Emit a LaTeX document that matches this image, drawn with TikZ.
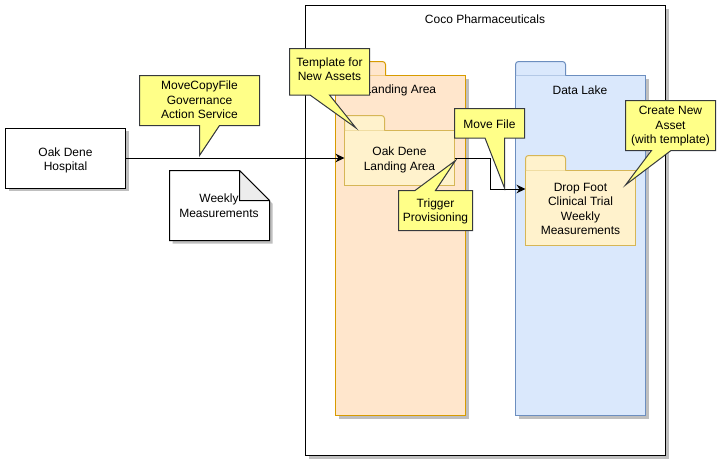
\documentclass[tikz,border=0pt]{standalone}
\usepackage{fontspec}
\setmainfont{Liberation Sans}
\usetikzlibrary{arrows.meta,shadows}

\definecolor{landingfill}{HTML}{FFE6CC}
\definecolor{landingline}{HTML}{D79B00}
\definecolor{lakefill}{HTML}{DAE8FC}
\definecolor{lakeline}{HTML}{6C8EBF}
\definecolor{innerfill}{HTML}{FFF2CC}
\definecolor{innerline}{HTML}{D6B656}
\definecolor{notefill}{HTML}{FFFF88}
\definecolor{noteline}{HTML}{36393D}

\tikzset{
    softshadow/.style={drop shadow={shadow xshift=3pt,shadow yshift=-3pt,opacity=.25,fill=black}},
    txt/.style={align=center,inner sep=0pt,font=\fontsize{12}{14.5}\selectfont},
    box/.style={draw=black,fill=white,line width=1pt,inner sep=0pt,outer sep=0pt},
    folder/.style={line width=1pt,inner sep=0pt,outer sep=0pt},
    landingfolder/.style={folder,draw=landingline,fill=landingfill},
    lakefolder/.style={folder,draw=lakeline,fill=lakefill},
    innerfolder/.style={folder,draw=innerline,fill=innerfill},
    calloutshape/.style={draw=noteline,fill=notefill,line width=1pt,line join=miter},
    link/.style={draw=black,line width=1pt,-{Stealth[length=9pt,width=8.5pt]}},
}

% tab on top of a folder body
\newcommand{\foldertab}[4]{
    \draw[#2,rounded corners=3pt] (#1.north west) -- ++(0,-#4) -- ++(#3,0) -- ++(0,#4);
}

\begin{document}
\begin{tikzpicture}[x=1pt,y=-1pt]
    \useasboundingbox (0,0) rectangle (721,464);

    % company
    \node[box,softshadow,minimum width=360pt,minimum height=450pt] (coco) at (485.5,230.5) {};
    \node[txt] (cocolabel) at (485,19) {Coco Pharmaceuticals};

    % the two big folders
    \node[landingfolder,softshadow,minimum width=130pt,minimum height=340pt] (landing) at (400.5,245.5) {};
    \foldertab{landing}{landingfolder}{50}{14}
    \node[txt] (landinglabel) at (400.5,90) {Landing Area};
    \node[lakefolder,softshadow,minimum width=130pt,minimum height=340pt] (lake) at (580.5,245.5) {};
    \foldertab{lake}{lakefolder}{50}{14}
    \node[txt] (lakelabel) at (580,90) {Data Lake};

    % folders inside
    \node[innerfolder,minimum width=110pt,minimum height=55pt] (oakarea) at (399.5,158) {};
    \foldertab{oakarea}{innerfolder}{40}{15}
    \node[txt] (oaklabel) at (399.5,160) {Oak Dene\\Landing Area};
    \node[innerfolder,minimum width=110pt,minimum height=75pt] (dropfoot) at (580.5,208) {};
    \foldertab{dropfoot}{innerfolder}{40}{15}
    \node[txt] (droplabel) at (580.5,209) {Drop Foot\\Clinical Trial\\Weekly\\Measurements};

    % hospital and file
    \node[box,softshadow,minimum width=120pt,minimum height=60pt] (hospital) at (65.5,158) {};
    \node[txt] (hospitallabel) at (65.5,160.5) {Oak Dene\\Hospital};
    \draw[draw=black,fill=white,line width=1pt,softshadow] (169.5,170.5) -- (239.5,170.5) -- (269.5,200.5) -- (269.5,240.5) -- (169.5,240.5) -- cycle;
    \draw[draw=black,fill=black!7,line width=1pt,line join=round] (239.5,170.5) -- (239.5,200.5) -- (269.5,200.5) -- cycle;
    \node[txt] (weekly) at (219,205.5) {Weekly\\Measurements};

    % connectors
    \coordinate (bendtop) at (490,158);
    \coordinate (bendlow) at (490,189);
    \draw[link] (hospital.east) -- (oakarea.west);
    \draw[link] (oakarea.east) -- (bendtop) -- (bendlow) -- (bendlow -| dropfoot.west);

    % notes
    \draw[calloutshape] (139.5,75.5) -- (259.5,75.5) -- (259.5,125.5) -- (219.5,125.5) -- (199.5,155.5) -- (199.5,125.5) -- (139.5,125.5) -- cycle;
    \node[txt] (movecopy) at (199.5,100) {MoveCopyFile\\Governance\\Action Service};

    \draw[calloutshape] (289.5,48.5) -- (369.5,48.5) -- (369.5,95) -- (329.5,95) -- (356,128) -- (310,95) -- (289.5,95) -- cycle;
    \node[txt] (template) at (329.5,69) {Template for\\New Assets};

    \draw[calloutshape] (398.5,190.5) -- (415,190.5) -- (455.5,160.5) -- (435.5,190.5) -- (472.5,190.5) -- (472.5,230.5) -- (398.5,230.5) -- cycle;
    \node[txt] (trigger) at (435.5,211.5) {Trigger\\Provisioning};

    \draw[calloutshape] (454.5,108.5) -- (524.5,108.5) -- (524.5,138) -- (504.5,138) -- (504.5,188) -- (485,138) -- (454.5,138) -- cycle;
    \node[txt] (movefile) at (489.5,124) {Move File};

    \draw[calloutshape] (625.5,100.5) -- (715.5,100.5) -- (715.5,150.5) -- (671,150.5) -- (625.5,185) -- (651.5,150.5) -- (625.5,150.5) -- cycle;
    \node[txt] (newasset) at (670.5,126.5) {Create New\\Asset\\(with template)};
\end{tikzpicture}
\end{document}
